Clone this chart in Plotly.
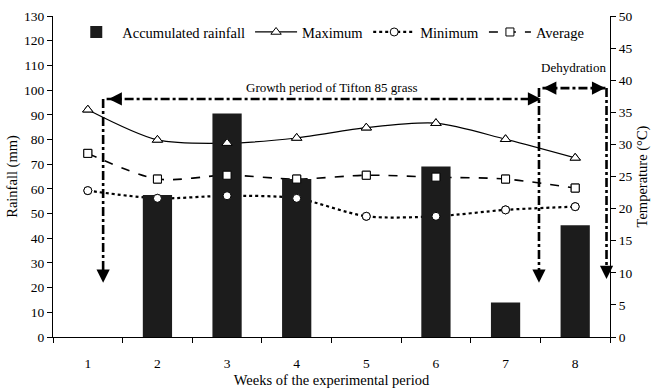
import plotly.graph_objects as go

weeks = ["1", "2", "3", "4", "5", "6", "7", "8"]
rainfall = [0, 57.5, 90.5, 64, 0, 69, 14, 45.3]
t_max = [35.4, 30.7, 30.2, 31.0, 32.6, 33.3, 30.8, 27.9]
t_min = [22.8, 21.6, 22.0, 21.6, 18.8, 18.8, 19.8, 20.3]
t_avg = [28.6, 24.6, 25.2, 24.6, 25.2, 24.9, 24.6, 23.2]

FONT = "Liberation Serif"
fig = go.Figure()

series = [
    ("Maximum", t_max, "solid", 1.2, "triangle-up", 9, 2),
    ("Minimum", t_min, "dot", 2.2, "circle", 8, 3),
    ("Average", t_avg, "dash", 1.6, "square", 8, 4),
]
for name, vals, dash, w, sym, sz, rank in series:
    fig.add_trace(go.Scatter(
        x=weeks, y=vals, name=name, mode="lines+markers", yaxis="y",
        line=dict(color="black", width=w, dash=dash, shape="spline", smoothing=0.8),
        marker=dict(symbol=sym, size=sz, color="white", line=dict(color="black", width=1)),
        legendrank=rank,
    ))

fig.add_trace(go.Bar(
    x=weeks, y=rainfall, name="Accumulated rainfall", yaxis="y2",
    marker=dict(color="#1c1c1c", line=dict(width=0)), width=0.42, legendrank=1,
))

for name, vals, dash, w, sym, sz, rank in series:
    fig.add_trace(go.Scatter(
        x=weeks, y=vals, mode="markers", yaxis="y3", showlegend=False,
        marker=dict(symbol=sym, size=sz, color="white", line=dict(color="black", width=1)),
        hoverinfo="skip",
    ))

# annotation arrows (data coordinates: x as category index, y in rainfall mm)
growth_y, dehyd_y = 96.4, 100.8
x_left, x_mid, x_right = 0.22, 6.48, 7.45
lw = 2.6
shapes = [
    dict(type="line", xref="x", yref="y2", x0=x_left + 0.05, x1=x_mid, y0=growth_y, y1=growth_y,
         line=dict(color="black", width=lw, dash="dashdot")),
    dict(type="line", xref="x", yref="y2", x0=x_left, x1=x_left, y0=growth_y, y1=24,
         line=dict(color="black", width=lw, dash="dashdot")),
    dict(type="line", xref="x", yref="y2", x0=x_mid, x1=x_mid, y0=dehyd_y, y1=24,
         line=dict(color="black", width=lw, dash="dashdot")),
    dict(type="line", xref="x", yref="y2", x0=x_mid + 0.05, x1=x_right, y0=dehyd_y, y1=dehyd_y,
         line=dict(color="black", width=lw, dash="dashdot")),
    dict(type="line", xref="x", yref="y2", x0=x_right, x1=x_right, y0=dehyd_y, y1=25,
         line=dict(color="black", width=lw, dash="dashdot")),
]

def head(x, y, ax, ay):
    return dict(x=x, y=y, xref="x", yref="y2", text="", showarrow=True,
                ax=ax, ay=ay, arrowhead=2, arrowsize=1.1, arrowwidth=2.4, arrowcolor="black")

annotations = [
    head(x_left + 0.08, growth_y, 14, 0),
    head(x_mid + 0.03, growth_y, -14, 0),
    head(x_left, 22, 0, -14),
    head(x_mid, 22, 0, -14),
    head(x_mid + 0.06, dehyd_y, 14, 0),
    head(x_right - 0.02, dehyd_y, -14, 0),
    head(x_right, 23.5, 0, -14),
    dict(x=3.5, y=growth_y + 1.0, xref="x", yref="y2", text="Growth period of Tifton 85 grass",
         showarrow=False, yanchor="bottom", font=dict(family=FONT, size=13, color="black")),
    dict(x=6.97, y=dehyd_y + 8.5, xref="x", yref="y2", text="Dehydration",
         showarrow=False, yanchor="middle", font=dict(family=FONT, size=13, color="black")),
]

fig.update_layout(
    width=651, height=392,
    margin=dict(l=53, r=41, t=16, b=55, autoexpand=False),
    paper_bgcolor="white", plot_bgcolor="white",
    font=dict(family=FONT, size=13.5, color="black"),
    barmode="overlay",
    showlegend=True,
    legend=dict(orientation="h", x=0.031, y=0.95, xanchor="left", yanchor="middle",
                font=dict(family=FONT, size=14.5), bgcolor="rgba(0,0,0,0)",
                itemwidth=42, traceorder="normal"),
    xaxis=dict(type="category", categoryorder="array", categoryarray=weeks,
               range=[-0.5, 7.5], tickson="boundaries", ticks="outside", ticklen=5,
               tickcolor="black", showline=True, linecolor="black", linewidth=1.3,
               showgrid=False, zeroline=False, ticklabelstandoff=14, automargin=False,
               tickfont=dict(color="black"),
               title=dict(text="Weeks of the experimental period", font=dict(size=14.5), standoff=4)),
    yaxis=dict(side="right", range=[0, 50], dtick=5, ticks="outside", ticklen=5,
               tickcolor="black", showline=True, linecolor="black", linewidth=1.3,
               showgrid=False, zeroline=False, automargin=False,
               title=dict(text="Temperature (°C)", font=dict(size=14.5), standoff=8)),
    yaxis2=dict(overlaying="y", side="left", range=[0, 130], dtick=10, ticks="outside",
                ticklen=5, tickcolor="black", showline=True, linecolor="black", linewidth=1.3,
                showgrid=False, zeroline=False, automargin=False,
                title=dict(text="Rainfall (mm)", font=dict(size=14.5), standoff=2)),
    yaxis3=dict(overlaying="y", range=[0, 50], visible=False),
    shapes=shapes,
    annotations=annotations,
)

fig.write_html("out.html", config={"displayModeBar": False},
               post_script="document.body.style.margin='0px';")
